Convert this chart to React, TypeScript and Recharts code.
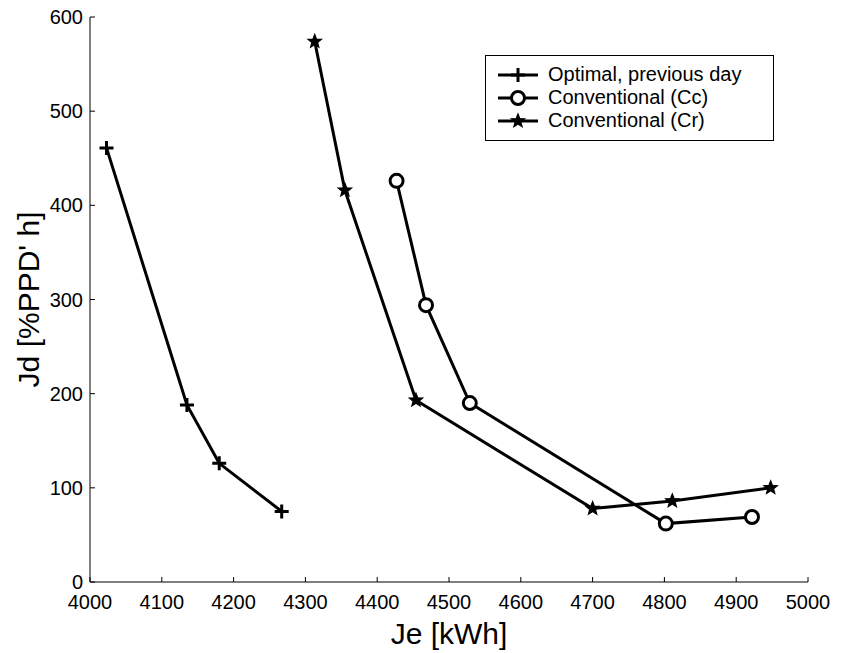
import React from "react";
import { ScatterChart, Scatter, XAxis, YAxis, Legend } from "recharts";

// axis ticks
const jeTicks = [4000, 4100, 4200, 4300, 4400, 4500, 4600, 4700, 4800, 4900, 5000];
const jdTicks = [0, 100, 200, 300, 400, 500, 600];

// Optimal, previous day
const optimalJe = [4023, 4135, 4180, 4267];
const optimalJd = [461, 188, 126, 75];

// Conventional (Cc)
const ccJe = [4427, 4468, 4529, 4802, 4922];
const ccJd = [426, 294, 190, 62, 69];

// Conventional (Cr)
const crJe = [4313, 4355, 4454, 4700, 4811, 4948];
const crJd = [574, 416, 193, 78, 86, 100];

const seriesNames = ["Optimal, previous day", "Conventional (Cc)", "Conventional (Cr)"];

const toPoints = (xs: number[], ys: number[]) => xs.map((je, i) => ({ je, jd: ys[i] }));

const FONT = "'Liberation Sans', Arial, Helvetica, sans-serif";
const LINE_W = 3;

const Plus = ({ cx, cy }: any) => (
  <path
    d={`M${cx - 7},${cy}H${cx + 7}M${cx},${cy - 7}V${cy + 7}`}
    stroke="#000"
    strokeWidth={3}
    fill="none"
  />
);

const Ring = ({ cx, cy }: any) => (
  <circle cx={cx} cy={cy} r={6.5} fill="#fff" stroke="#000" strokeWidth={3} />
);

const Star = ({ cx, cy }: any) => {
  const pts: string[] = [];
  for (let i = 0; i < 10; i++) {
    const r = i % 2 === 0 ? 7 : 3;
    const a = -Math.PI / 2 + (i * Math.PI) / 5;
    pts.push(`${cx + r * Math.cos(a)},${cy + r * Math.sin(a)}`);
  }
  return <polygon points={pts.join(" ")} fill="#000" stroke="#000" strokeWidth={1.2} />;
};

const markers = [Plus, Ring, Star];

const BottomTick = ({ x, y, payload }: any) => (
  <g>
    <line x1={x} y1={y} x2={x} y2={y - 5} stroke="#000" />
    <text x={x} y={y + 13} dy="0.71em" textAnchor="middle" fontSize={20} fill="#000" fontFamily={FONT}>
      {payload.value}
    </text>
  </g>
);

const LeftTick = ({ x, y, payload }: any) => (
  <g>
    <line x1={x} y1={y} x2={x + 5} y2={y} stroke="#000" />
    <text x={x - 7} y={y} dy="0.35em" textAnchor="end" fontSize={20} fill="#000" fontFamily={FONT}>
      {payload.value}
    </text>
  </g>
);

const TopTick = ({ x, y }: any) => <line x1={x} y1={y} x2={x} y2={y + 5} stroke="#000" />;
const RightTick = ({ x, y }: any) => <line x1={x} y1={y} x2={x - 5} y2={y} stroke="#000" />;

const LegendBox = () => (
  <div
    style={{
      border: "1px solid #000",
      background: "#fff",
      width: 289,
      height: 86,
      paddingTop: 7,
      boxSizing: "border-box",
      fontFamily: FONT,
      fontSize: 20,
      color: "#000",
    }}
  >
    {seriesNames.map((name, i) => {
      const M = markers[i];
      return (
        <div key={name} style={{ display: "flex", alignItems: "center", height: 23 }}>
          <svg width={62} height={22} style={{ display: "block" }}>
            <line x1={12} y1={11} x2={52} y2={11} stroke="#000" strokeWidth={LINE_W} />
            <M cx={32} cy={11} />
          </svg>
          <span style={{ whiteSpace: "nowrap" }}>{name}</span>
        </div>
      );
    })}
  </div>
);

export default function App() {
  const series = [
    toPoints(optimalJe, optimalJd),
    toPoints(ccJe, ccJd),
    toPoints(crJe, crJd),
  ];

  return (
    <div style={{ position: "absolute", left: 0, top: 0, background: "#fff", fontFamily: FONT }}>
      <ScatterChart width={841} height={653} margin={{ top: 17, right: 33, bottom: 0, left: 0 }}>
        <XAxis
          xAxisId="b"
          dataKey="je"
          type="number"
          domain={[4000, 5000]}
          ticks={jeTicks}
          height={71}
          tickSize={0}
          tickMargin={0}
          tickLine={false}
          tick={<BottomTick />}
          axisLine={{ stroke: "#000" }}
          label={{
            content: ({ viewBox }: any) => (
              <text
                x={viewBox.x + viewBox.width / 2}
                y={viewBox.y + 62}
                textAnchor="middle"
                fontSize={30}
                fontFamily={FONT}
                fill="#000"
              >
                Je [kWh]
              </text>
            ),
          }}
        />
        <XAxis
          xAxisId="t"
          orientation="top"
          dataKey="je"
          type="number"
          domain={[4000, 5000]}
          ticks={jeTicks}
          height={0}
          tickSize={0}
          tickMargin={0}
          tickLine={false}
          tick={<TopTick />}
          axisLine={{ stroke: "#000" }}
        />
        <YAxis
          yAxisId="l"
          dataKey="jd"
          type="number"
          domain={[0, 600]}
          ticks={jdTicks}
          width={90}
          tickSize={0}
          tickMargin={0}
          tickLine={false}
          tick={<LeftTick />}
          axisLine={{ stroke: "#000" }}
          label={{
            content: ({ viewBox }: any) => {
              const cx = viewBox.x + 28;
              const cy = viewBox.y + viewBox.height / 2;
              return (
                <text
                  x={cx}
                  y={cy}
                  transform={`rotate(-90 ${cx} ${cy})`}
                  textAnchor="middle"
                  dominantBaseline="central"
                  fontSize={30}
                  fontFamily={FONT}
                  fill="#000"
                >
                  Jd [%PPD' h]
                </text>
              );
            },
          }}
        />
        <YAxis
          yAxisId="r"
          orientation="right"
          dataKey="jd"
          type="number"
          domain={[0, 600]}
          ticks={jdTicks}
          width={0}
          tickSize={0}
          tickMargin={0}
          tickLine={false}
          tick={<RightTick />}
          axisLine={{ stroke: "#000" }}
        />
        <Legend
          layout="vertical"
          align="center"
          verticalAlign="middle"
          content={<LegendBox />}
          wrapperStyle={{ left: 485, top: 55, width: "auto", height: "auto" }}
        />
        {series.map((pts, i) => (
          <Scatter
            key={seriesNames[i]}
            name={seriesNames[i]}
            data={pts}
            xAxisId="b"
            yAxisId="l"
            line={{ stroke: "#000", strokeWidth: LINE_W }}
            lineJointType="linear"
            shape={markers[i]}
            isAnimationActive={false}
          />
        ))}
      </ScatterChart>
    </div>
  );
}
